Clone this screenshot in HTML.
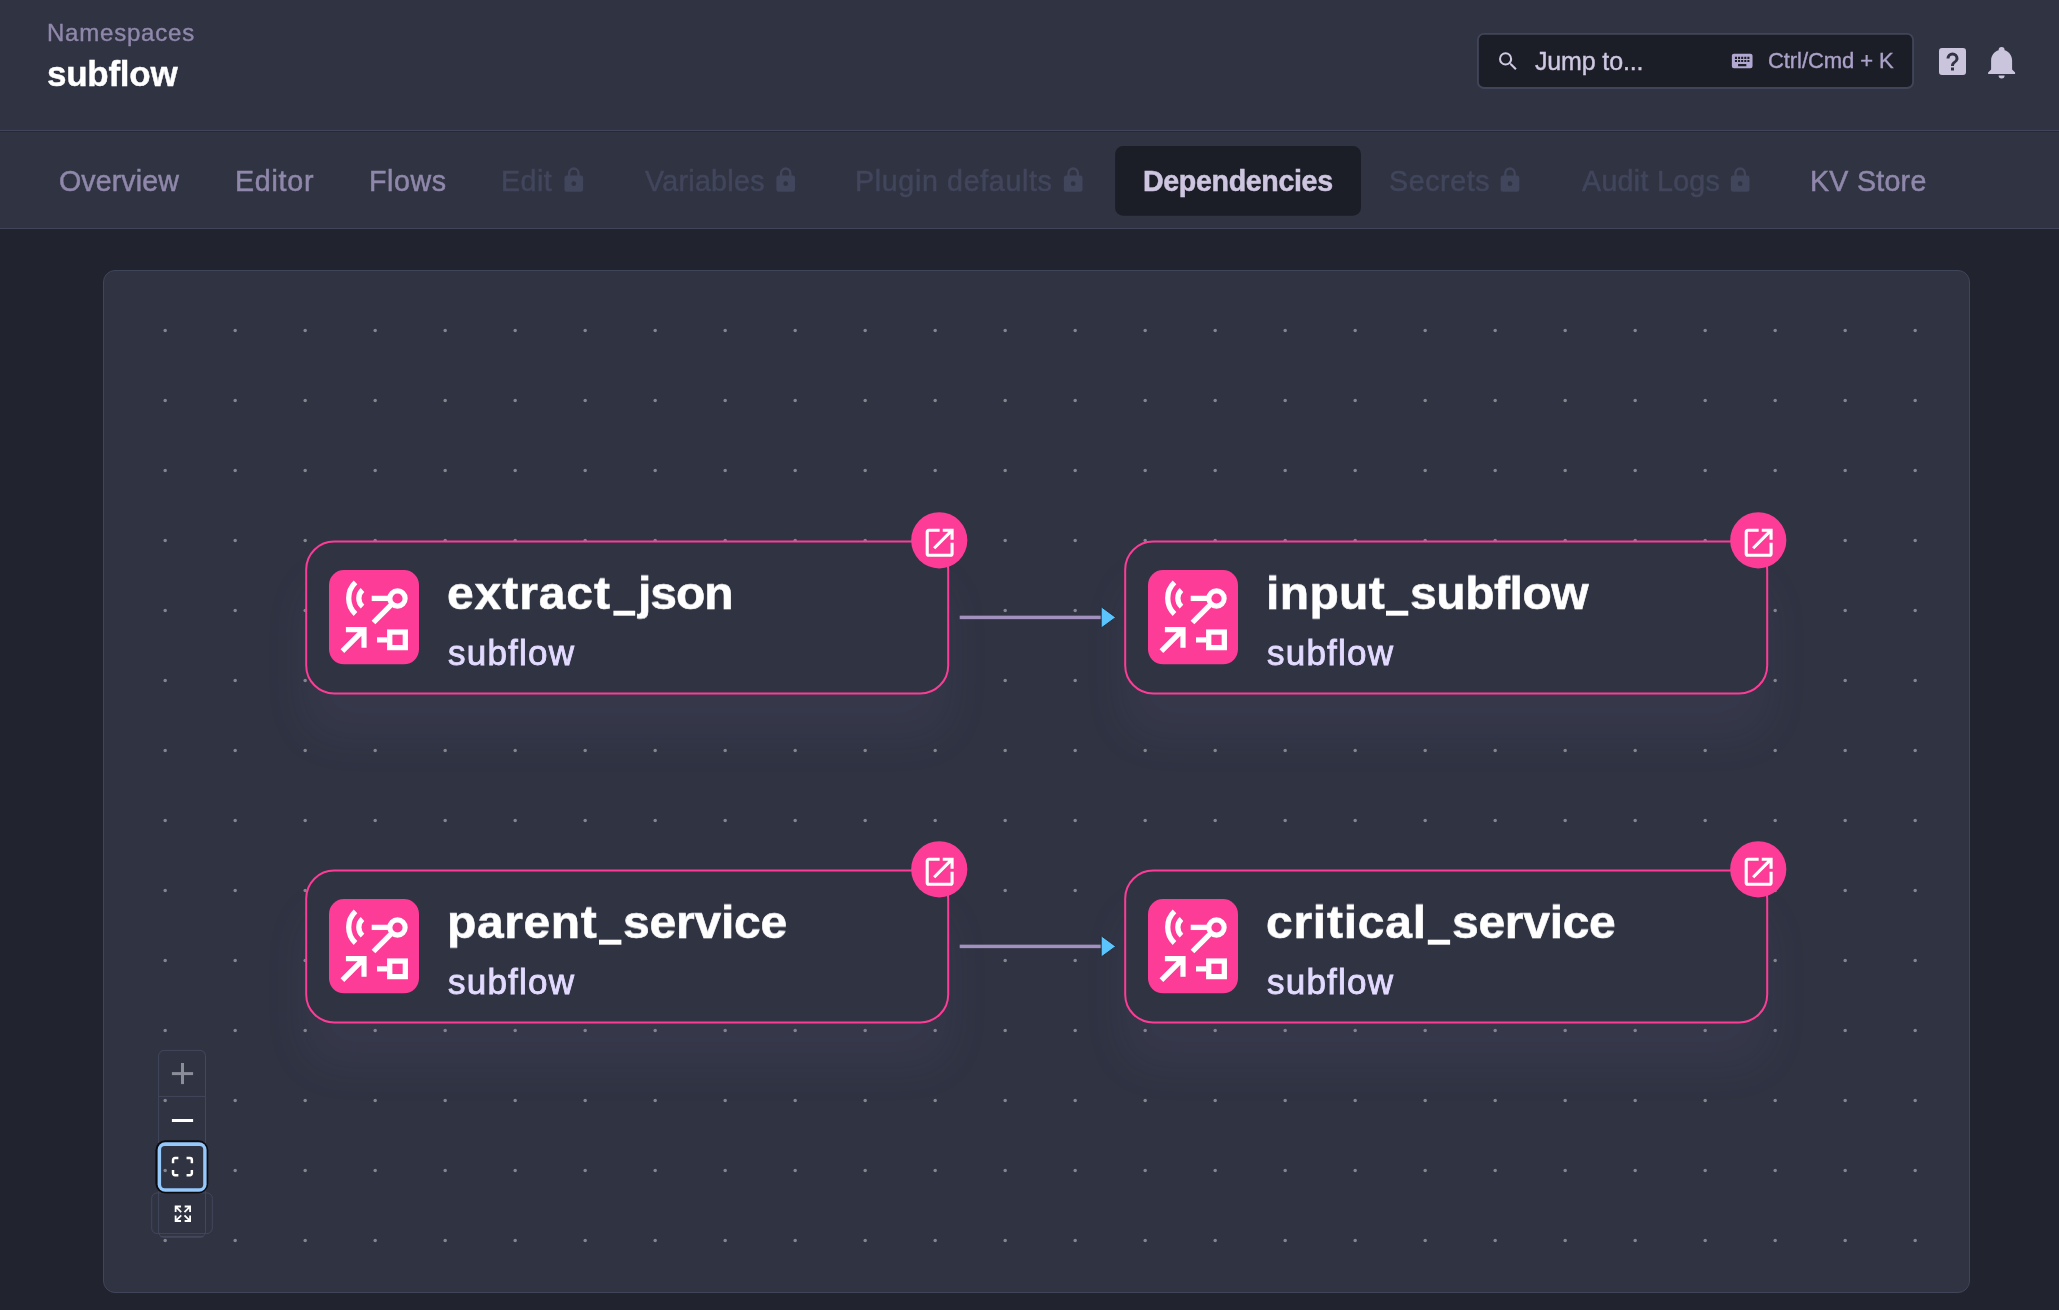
<!DOCTYPE html>
<html>
<head>
<meta charset="utf-8">
<title>Namespaces - subflow</title>
<style>
*{box-sizing:border-box;margin:0;padding:0}
html,body{width:2059px;height:1310px;overflow:hidden;background:#21232e;font-family:"Liberation Sans",sans-serif}
.abs{position:absolute}
svg.abs{left:0;top:0;overflow:visible}
.t{position:absolute;white-space:nowrap;line-height:1;will-change:transform}
#header{position:absolute;left:0;top:0;width:2059px;height:130.5px;background:#2f3342;border-bottom:1px solid #404559}
#hgap{position:absolute;left:0;top:130.9px;width:2059px;height:1.1px;background:#252837}
#tabs{position:absolute;left:0;top:130.5px;width:2059px;height:98.3px;background:#2f3342;border-bottom:1px solid #404559}
#panel{position:absolute;left:102.8px;top:269.7px;width:1867.5px;height:1023.5px;background:#2f3342;border:1px solid #404559;border-radius:12px}
.tab{color:#9088ab;font-size:28.6px;-webkit-text-stroke:.5px}
.tab.dis{color:#42465c}
.tab.on{font-weight:bold;color:#cec6e0}
.shadow{position:absolute;width:644px;height:154.8px;border-radius:29px;box-shadow:0 42px 42px 0 rgba(130,103,158,.10)}
.title{color:#fff;font-weight:bold;font-size:48px;-webkit-text-stroke:.6px;transform:scaleY(.958);transform-origin:0 40.64px}
.sub{color:#e3dbff;font-size:35px;-webkit-text-stroke:.85px}
</style>
</head>
<body>
<div id="header"></div><div id="tabs"></div><div id="hgap"></div><div id="panel"></div>
<svg class="abs" id="dots" width="2059" height="1310"><g fill="#85858f"><circle cx="165.2" cy="330.5" r="1.75"/><circle cx="165.2" cy="400.5" r="1.75"/><circle cx="165.2" cy="470.5" r="1.75"/><circle cx="165.2" cy="540.5" r="1.75"/><circle cx="165.2" cy="610.5" r="1.75"/><circle cx="165.2" cy="680.5" r="1.75"/><circle cx="165.2" cy="750.5" r="1.75"/><circle cx="165.2" cy="820.5" r="1.75"/><circle cx="165.2" cy="890.5" r="1.75"/><circle cx="165.2" cy="960.5" r="1.75"/><circle cx="165.2" cy="1030.5" r="1.75"/><circle cx="165.2" cy="1100.5" r="1.75"/><circle cx="165.2" cy="1170.5" r="1.75"/><circle cx="165.2" cy="1240.5" r="1.75"/><circle cx="235.2" cy="330.5" r="1.75"/><circle cx="235.2" cy="400.5" r="1.75"/><circle cx="235.2" cy="470.5" r="1.75"/><circle cx="235.2" cy="540.5" r="1.75"/><circle cx="235.2" cy="610.5" r="1.75"/><circle cx="235.2" cy="680.5" r="1.75"/><circle cx="235.2" cy="750.5" r="1.75"/><circle cx="235.2" cy="820.5" r="1.75"/><circle cx="235.2" cy="890.5" r="1.75"/><circle cx="235.2" cy="960.5" r="1.75"/><circle cx="235.2" cy="1030.5" r="1.75"/><circle cx="235.2" cy="1100.5" r="1.75"/><circle cx="235.2" cy="1170.5" r="1.75"/><circle cx="235.2" cy="1240.5" r="1.75"/><circle cx="305.2" cy="330.5" r="1.75"/><circle cx="305.2" cy="400.5" r="1.75"/><circle cx="305.2" cy="470.5" r="1.75"/><circle cx="305.2" cy="540.5" r="1.75"/><circle cx="305.2" cy="610.5" r="1.75"/><circle cx="305.2" cy="680.5" r="1.75"/><circle cx="305.2" cy="750.5" r="1.75"/><circle cx="305.2" cy="820.5" r="1.75"/><circle cx="305.2" cy="890.5" r="1.75"/><circle cx="305.2" cy="960.5" r="1.75"/><circle cx="305.2" cy="1030.5" r="1.75"/><circle cx="305.2" cy="1100.5" r="1.75"/><circle cx="305.2" cy="1170.5" r="1.75"/><circle cx="305.2" cy="1240.5" r="1.75"/><circle cx="375.2" cy="330.5" r="1.75"/><circle cx="375.2" cy="400.5" r="1.75"/><circle cx="375.2" cy="470.5" r="1.75"/><circle cx="375.2" cy="540.5" r="1.75"/><circle cx="375.2" cy="610.5" r="1.75"/><circle cx="375.2" cy="680.5" r="1.75"/><circle cx="375.2" cy="750.5" r="1.75"/><circle cx="375.2" cy="820.5" r="1.75"/><circle cx="375.2" cy="890.5" r="1.75"/><circle cx="375.2" cy="960.5" r="1.75"/><circle cx="375.2" cy="1030.5" r="1.75"/><circle cx="375.2" cy="1100.5" r="1.75"/><circle cx="375.2" cy="1170.5" r="1.75"/><circle cx="375.2" cy="1240.5" r="1.75"/><circle cx="445.2" cy="330.5" r="1.75"/><circle cx="445.2" cy="400.5" r="1.75"/><circle cx="445.2" cy="470.5" r="1.75"/><circle cx="445.2" cy="540.5" r="1.75"/><circle cx="445.2" cy="610.5" r="1.75"/><circle cx="445.2" cy="680.5" r="1.75"/><circle cx="445.2" cy="750.5" r="1.75"/><circle cx="445.2" cy="820.5" r="1.75"/><circle cx="445.2" cy="890.5" r="1.75"/><circle cx="445.2" cy="960.5" r="1.75"/><circle cx="445.2" cy="1030.5" r="1.75"/><circle cx="445.2" cy="1100.5" r="1.75"/><circle cx="445.2" cy="1170.5" r="1.75"/><circle cx="445.2" cy="1240.5" r="1.75"/><circle cx="515.2" cy="330.5" r="1.75"/><circle cx="515.2" cy="400.5" r="1.75"/><circle cx="515.2" cy="470.5" r="1.75"/><circle cx="515.2" cy="540.5" r="1.75"/><circle cx="515.2" cy="610.5" r="1.75"/><circle cx="515.2" cy="680.5" r="1.75"/><circle cx="515.2" cy="750.5" r="1.75"/><circle cx="515.2" cy="820.5" r="1.75"/><circle cx="515.2" cy="890.5" r="1.75"/><circle cx="515.2" cy="960.5" r="1.75"/><circle cx="515.2" cy="1030.5" r="1.75"/><circle cx="515.2" cy="1100.5" r="1.75"/><circle cx="515.2" cy="1170.5" r="1.75"/><circle cx="515.2" cy="1240.5" r="1.75"/><circle cx="585.2" cy="330.5" r="1.75"/><circle cx="585.2" cy="400.5" r="1.75"/><circle cx="585.2" cy="470.5" r="1.75"/><circle cx="585.2" cy="540.5" r="1.75"/><circle cx="585.2" cy="610.5" r="1.75"/><circle cx="585.2" cy="680.5" r="1.75"/><circle cx="585.2" cy="750.5" r="1.75"/><circle cx="585.2" cy="820.5" r="1.75"/><circle cx="585.2" cy="890.5" r="1.75"/><circle cx="585.2" cy="960.5" r="1.75"/><circle cx="585.2" cy="1030.5" r="1.75"/><circle cx="585.2" cy="1100.5" r="1.75"/><circle cx="585.2" cy="1170.5" r="1.75"/><circle cx="585.2" cy="1240.5" r="1.75"/><circle cx="655.2" cy="330.5" r="1.75"/><circle cx="655.2" cy="400.5" r="1.75"/><circle cx="655.2" cy="470.5" r="1.75"/><circle cx="655.2" cy="540.5" r="1.75"/><circle cx="655.2" cy="610.5" r="1.75"/><circle cx="655.2" cy="680.5" r="1.75"/><circle cx="655.2" cy="750.5" r="1.75"/><circle cx="655.2" cy="820.5" r="1.75"/><circle cx="655.2" cy="890.5" r="1.75"/><circle cx="655.2" cy="960.5" r="1.75"/><circle cx="655.2" cy="1030.5" r="1.75"/><circle cx="655.2" cy="1100.5" r="1.75"/><circle cx="655.2" cy="1170.5" r="1.75"/><circle cx="655.2" cy="1240.5" r="1.75"/><circle cx="725.2" cy="330.5" r="1.75"/><circle cx="725.2" cy="400.5" r="1.75"/><circle cx="725.2" cy="470.5" r="1.75"/><circle cx="725.2" cy="540.5" r="1.75"/><circle cx="725.2" cy="610.5" r="1.75"/><circle cx="725.2" cy="680.5" r="1.75"/><circle cx="725.2" cy="750.5" r="1.75"/><circle cx="725.2" cy="820.5" r="1.75"/><circle cx="725.2" cy="890.5" r="1.75"/><circle cx="725.2" cy="960.5" r="1.75"/><circle cx="725.2" cy="1030.5" r="1.75"/><circle cx="725.2" cy="1100.5" r="1.75"/><circle cx="725.2" cy="1170.5" r="1.75"/><circle cx="725.2" cy="1240.5" r="1.75"/><circle cx="795.2" cy="330.5" r="1.75"/><circle cx="795.2" cy="400.5" r="1.75"/><circle cx="795.2" cy="470.5" r="1.75"/><circle cx="795.2" cy="540.5" r="1.75"/><circle cx="795.2" cy="610.5" r="1.75"/><circle cx="795.2" cy="680.5" r="1.75"/><circle cx="795.2" cy="750.5" r="1.75"/><circle cx="795.2" cy="820.5" r="1.75"/><circle cx="795.2" cy="890.5" r="1.75"/><circle cx="795.2" cy="960.5" r="1.75"/><circle cx="795.2" cy="1030.5" r="1.75"/><circle cx="795.2" cy="1100.5" r="1.75"/><circle cx="795.2" cy="1170.5" r="1.75"/><circle cx="795.2" cy="1240.5" r="1.75"/><circle cx="865.2" cy="330.5" r="1.75"/><circle cx="865.2" cy="400.5" r="1.75"/><circle cx="865.2" cy="470.5" r="1.75"/><circle cx="865.2" cy="540.5" r="1.75"/><circle cx="865.2" cy="610.5" r="1.75"/><circle cx="865.2" cy="680.5" r="1.75"/><circle cx="865.2" cy="750.5" r="1.75"/><circle cx="865.2" cy="820.5" r="1.75"/><circle cx="865.2" cy="890.5" r="1.75"/><circle cx="865.2" cy="960.5" r="1.75"/><circle cx="865.2" cy="1030.5" r="1.75"/><circle cx="865.2" cy="1100.5" r="1.75"/><circle cx="865.2" cy="1170.5" r="1.75"/><circle cx="865.2" cy="1240.5" r="1.75"/><circle cx="935.2" cy="330.5" r="1.75"/><circle cx="935.2" cy="400.5" r="1.75"/><circle cx="935.2" cy="470.5" r="1.75"/><circle cx="935.2" cy="540.5" r="1.75"/><circle cx="935.2" cy="610.5" r="1.75"/><circle cx="935.2" cy="680.5" r="1.75"/><circle cx="935.2" cy="750.5" r="1.75"/><circle cx="935.2" cy="820.5" r="1.75"/><circle cx="935.2" cy="890.5" r="1.75"/><circle cx="935.2" cy="960.5" r="1.75"/><circle cx="935.2" cy="1030.5" r="1.75"/><circle cx="935.2" cy="1100.5" r="1.75"/><circle cx="935.2" cy="1170.5" r="1.75"/><circle cx="935.2" cy="1240.5" r="1.75"/><circle cx="1005.2" cy="330.5" r="1.75"/><circle cx="1005.2" cy="400.5" r="1.75"/><circle cx="1005.2" cy="470.5" r="1.75"/><circle cx="1005.2" cy="540.5" r="1.75"/><circle cx="1005.2" cy="610.5" r="1.75"/><circle cx="1005.2" cy="680.5" r="1.75"/><circle cx="1005.2" cy="750.5" r="1.75"/><circle cx="1005.2" cy="820.5" r="1.75"/><circle cx="1005.2" cy="890.5" r="1.75"/><circle cx="1005.2" cy="960.5" r="1.75"/><circle cx="1005.2" cy="1030.5" r="1.75"/><circle cx="1005.2" cy="1100.5" r="1.75"/><circle cx="1005.2" cy="1170.5" r="1.75"/><circle cx="1005.2" cy="1240.5" r="1.75"/><circle cx="1075.2" cy="330.5" r="1.75"/><circle cx="1075.2" cy="400.5" r="1.75"/><circle cx="1075.2" cy="470.5" r="1.75"/><circle cx="1075.2" cy="540.5" r="1.75"/><circle cx="1075.2" cy="610.5" r="1.75"/><circle cx="1075.2" cy="680.5" r="1.75"/><circle cx="1075.2" cy="750.5" r="1.75"/><circle cx="1075.2" cy="820.5" r="1.75"/><circle cx="1075.2" cy="890.5" r="1.75"/><circle cx="1075.2" cy="960.5" r="1.75"/><circle cx="1075.2" cy="1030.5" r="1.75"/><circle cx="1075.2" cy="1100.5" r="1.75"/><circle cx="1075.2" cy="1170.5" r="1.75"/><circle cx="1075.2" cy="1240.5" r="1.75"/><circle cx="1145.2" cy="330.5" r="1.75"/><circle cx="1145.2" cy="400.5" r="1.75"/><circle cx="1145.2" cy="470.5" r="1.75"/><circle cx="1145.2" cy="540.5" r="1.75"/><circle cx="1145.2" cy="610.5" r="1.75"/><circle cx="1145.2" cy="680.5" r="1.75"/><circle cx="1145.2" cy="750.5" r="1.75"/><circle cx="1145.2" cy="820.5" r="1.75"/><circle cx="1145.2" cy="890.5" r="1.75"/><circle cx="1145.2" cy="960.5" r="1.75"/><circle cx="1145.2" cy="1030.5" r="1.75"/><circle cx="1145.2" cy="1100.5" r="1.75"/><circle cx="1145.2" cy="1170.5" r="1.75"/><circle cx="1145.2" cy="1240.5" r="1.75"/><circle cx="1215.2" cy="330.5" r="1.75"/><circle cx="1215.2" cy="400.5" r="1.75"/><circle cx="1215.2" cy="470.5" r="1.75"/><circle cx="1215.2" cy="540.5" r="1.75"/><circle cx="1215.2" cy="610.5" r="1.75"/><circle cx="1215.2" cy="680.5" r="1.75"/><circle cx="1215.2" cy="750.5" r="1.75"/><circle cx="1215.2" cy="820.5" r="1.75"/><circle cx="1215.2" cy="890.5" r="1.75"/><circle cx="1215.2" cy="960.5" r="1.75"/><circle cx="1215.2" cy="1030.5" r="1.75"/><circle cx="1215.2" cy="1100.5" r="1.75"/><circle cx="1215.2" cy="1170.5" r="1.75"/><circle cx="1215.2" cy="1240.5" r="1.75"/><circle cx="1285.2" cy="330.5" r="1.75"/><circle cx="1285.2" cy="400.5" r="1.75"/><circle cx="1285.2" cy="470.5" r="1.75"/><circle cx="1285.2" cy="540.5" r="1.75"/><circle cx="1285.2" cy="610.5" r="1.75"/><circle cx="1285.2" cy="680.5" r="1.75"/><circle cx="1285.2" cy="750.5" r="1.75"/><circle cx="1285.2" cy="820.5" r="1.75"/><circle cx="1285.2" cy="890.5" r="1.75"/><circle cx="1285.2" cy="960.5" r="1.75"/><circle cx="1285.2" cy="1030.5" r="1.75"/><circle cx="1285.2" cy="1100.5" r="1.75"/><circle cx="1285.2" cy="1170.5" r="1.75"/><circle cx="1285.2" cy="1240.5" r="1.75"/><circle cx="1355.2" cy="330.5" r="1.75"/><circle cx="1355.2" cy="400.5" r="1.75"/><circle cx="1355.2" cy="470.5" r="1.75"/><circle cx="1355.2" cy="540.5" r="1.75"/><circle cx="1355.2" cy="610.5" r="1.75"/><circle cx="1355.2" cy="680.5" r="1.75"/><circle cx="1355.2" cy="750.5" r="1.75"/><circle cx="1355.2" cy="820.5" r="1.75"/><circle cx="1355.2" cy="890.5" r="1.75"/><circle cx="1355.2" cy="960.5" r="1.75"/><circle cx="1355.2" cy="1030.5" r="1.75"/><circle cx="1355.2" cy="1100.5" r="1.75"/><circle cx="1355.2" cy="1170.5" r="1.75"/><circle cx="1355.2" cy="1240.5" r="1.75"/><circle cx="1425.2" cy="330.5" r="1.75"/><circle cx="1425.2" cy="400.5" r="1.75"/><circle cx="1425.2" cy="470.5" r="1.75"/><circle cx="1425.2" cy="540.5" r="1.75"/><circle cx="1425.2" cy="610.5" r="1.75"/><circle cx="1425.2" cy="680.5" r="1.75"/><circle cx="1425.2" cy="750.5" r="1.75"/><circle cx="1425.2" cy="820.5" r="1.75"/><circle cx="1425.2" cy="890.5" r="1.75"/><circle cx="1425.2" cy="960.5" r="1.75"/><circle cx="1425.2" cy="1030.5" r="1.75"/><circle cx="1425.2" cy="1100.5" r="1.75"/><circle cx="1425.2" cy="1170.5" r="1.75"/><circle cx="1425.2" cy="1240.5" r="1.75"/><circle cx="1495.2" cy="330.5" r="1.75"/><circle cx="1495.2" cy="400.5" r="1.75"/><circle cx="1495.2" cy="470.5" r="1.75"/><circle cx="1495.2" cy="540.5" r="1.75"/><circle cx="1495.2" cy="610.5" r="1.75"/><circle cx="1495.2" cy="680.5" r="1.75"/><circle cx="1495.2" cy="750.5" r="1.75"/><circle cx="1495.2" cy="820.5" r="1.75"/><circle cx="1495.2" cy="890.5" r="1.75"/><circle cx="1495.2" cy="960.5" r="1.75"/><circle cx="1495.2" cy="1030.5" r="1.75"/><circle cx="1495.2" cy="1100.5" r="1.75"/><circle cx="1495.2" cy="1170.5" r="1.75"/><circle cx="1495.2" cy="1240.5" r="1.75"/><circle cx="1565.2" cy="330.5" r="1.75"/><circle cx="1565.2" cy="400.5" r="1.75"/><circle cx="1565.2" cy="470.5" r="1.75"/><circle cx="1565.2" cy="540.5" r="1.75"/><circle cx="1565.2" cy="610.5" r="1.75"/><circle cx="1565.2" cy="680.5" r="1.75"/><circle cx="1565.2" cy="750.5" r="1.75"/><circle cx="1565.2" cy="820.5" r="1.75"/><circle cx="1565.2" cy="890.5" r="1.75"/><circle cx="1565.2" cy="960.5" r="1.75"/><circle cx="1565.2" cy="1030.5" r="1.75"/><circle cx="1565.2" cy="1100.5" r="1.75"/><circle cx="1565.2" cy="1170.5" r="1.75"/><circle cx="1565.2" cy="1240.5" r="1.75"/><circle cx="1635.2" cy="330.5" r="1.75"/><circle cx="1635.2" cy="400.5" r="1.75"/><circle cx="1635.2" cy="470.5" r="1.75"/><circle cx="1635.2" cy="540.5" r="1.75"/><circle cx="1635.2" cy="610.5" r="1.75"/><circle cx="1635.2" cy="680.5" r="1.75"/><circle cx="1635.2" cy="750.5" r="1.75"/><circle cx="1635.2" cy="820.5" r="1.75"/><circle cx="1635.2" cy="890.5" r="1.75"/><circle cx="1635.2" cy="960.5" r="1.75"/><circle cx="1635.2" cy="1030.5" r="1.75"/><circle cx="1635.2" cy="1100.5" r="1.75"/><circle cx="1635.2" cy="1170.5" r="1.75"/><circle cx="1635.2" cy="1240.5" r="1.75"/><circle cx="1705.2" cy="330.5" r="1.75"/><circle cx="1705.2" cy="400.5" r="1.75"/><circle cx="1705.2" cy="470.5" r="1.75"/><circle cx="1705.2" cy="540.5" r="1.75"/><circle cx="1705.2" cy="610.5" r="1.75"/><circle cx="1705.2" cy="680.5" r="1.75"/><circle cx="1705.2" cy="750.5" r="1.75"/><circle cx="1705.2" cy="820.5" r="1.75"/><circle cx="1705.2" cy="890.5" r="1.75"/><circle cx="1705.2" cy="960.5" r="1.75"/><circle cx="1705.2" cy="1030.5" r="1.75"/><circle cx="1705.2" cy="1100.5" r="1.75"/><circle cx="1705.2" cy="1170.5" r="1.75"/><circle cx="1705.2" cy="1240.5" r="1.75"/><circle cx="1775.2" cy="330.5" r="1.75"/><circle cx="1775.2" cy="400.5" r="1.75"/><circle cx="1775.2" cy="470.5" r="1.75"/><circle cx="1775.2" cy="540.5" r="1.75"/><circle cx="1775.2" cy="610.5" r="1.75"/><circle cx="1775.2" cy="680.5" r="1.75"/><circle cx="1775.2" cy="750.5" r="1.75"/><circle cx="1775.2" cy="820.5" r="1.75"/><circle cx="1775.2" cy="890.5" r="1.75"/><circle cx="1775.2" cy="960.5" r="1.75"/><circle cx="1775.2" cy="1030.5" r="1.75"/><circle cx="1775.2" cy="1100.5" r="1.75"/><circle cx="1775.2" cy="1170.5" r="1.75"/><circle cx="1775.2" cy="1240.5" r="1.75"/><circle cx="1845.2" cy="330.5" r="1.75"/><circle cx="1845.2" cy="400.5" r="1.75"/><circle cx="1845.2" cy="470.5" r="1.75"/><circle cx="1845.2" cy="540.5" r="1.75"/><circle cx="1845.2" cy="610.5" r="1.75"/><circle cx="1845.2" cy="680.5" r="1.75"/><circle cx="1845.2" cy="750.5" r="1.75"/><circle cx="1845.2" cy="820.5" r="1.75"/><circle cx="1845.2" cy="890.5" r="1.75"/><circle cx="1845.2" cy="960.5" r="1.75"/><circle cx="1845.2" cy="1030.5" r="1.75"/><circle cx="1845.2" cy="1100.5" r="1.75"/><circle cx="1845.2" cy="1170.5" r="1.75"/><circle cx="1845.2" cy="1240.5" r="1.75"/><circle cx="1915.2" cy="330.5" r="1.75"/><circle cx="1915.2" cy="400.5" r="1.75"/><circle cx="1915.2" cy="470.5" r="1.75"/><circle cx="1915.2" cy="540.5" r="1.75"/><circle cx="1915.2" cy="610.5" r="1.75"/><circle cx="1915.2" cy="680.5" r="1.75"/><circle cx="1915.2" cy="750.5" r="1.75"/><circle cx="1915.2" cy="820.5" r="1.75"/><circle cx="1915.2" cy="890.5" r="1.75"/><circle cx="1915.2" cy="960.5" r="1.75"/><circle cx="1915.2" cy="1030.5" r="1.75"/><circle cx="1915.2" cy="1100.5" r="1.75"/><circle cx="1915.2" cy="1170.5" r="1.75"/><circle cx="1915.2" cy="1240.5" r="1.75"/></g></svg>
<div class="shadow" style="left:305.2px;top:539.6px"></div>
<div class="shadow" style="left:1124.2px;top:539.6px"></div>
<div class="shadow" style="left:305.2px;top:868.6px"></div>
<div class="shadow" style="left:1124.2px;top:868.6px"></div>
<svg class="abs" id="gfx" width="2059" height="1310">
<rect x="1477.9" y="33.9" width="435.2" height="54.1" rx="6" fill="#1c1e27" stroke="#404559" stroke-width="1.9"/>
<path transform="translate(1496.00,49.30) scale(1.0083)" fill="#cfc8e2" d="M9.5,3A6.5,6.5 0 0,1 16,9.5C16,11.11 15.41,12.59 14.44,13.73L14.71,14H15.5L20.5,19L19,20.5L14,15.5V14.71L13.73,14.44C12.59,15.41 11.11,16 9.5,16A6.5,6.5 0 0,1 3,9.5A6.5,6.5 0 0,1 9.5,3M9.5,5C7,5 5,7 5,9.5C5,12 7,14 9.5,14C12,14 14,12 14,9.5C14,7 12,5 9.5,5Z"/>
<path transform="translate(1729.80,48.60) scale(1.0333)" fill="#b1a7d0" d="M19,10H17V8H19M19,13H17V11H19M16,10H14V8H16M16,13H14V11H16M16,17H8V15H16M7,10H5V8H7M7,13H5V11H7M8,11H10V13H8M8,8H10V10H8M11,11H13V13H11M11,8H13V10H11M20,5H4C2.89,5 2,5.89 2,7V17A2,2 0 0,0 4,19H20A2,2 0 0,0 22,17V7C22,5.89 21.1,5 20,5Z"/>
<path transform="translate(1934.50,43.50) scale(1.5000)" fill="#cbc4dd" d="M11,18H13V16H11V18M12,6A4,4 0 0,0 8,10H10A2,2 0 0,1 12,8A2,2 0 0,1 14,10C14,12 11,11.75 11,15H13C13,12.75 16,12.5 16,10A4,4 0 0,0 12,6M5,3H19A2,2 0 0,1 21,5V19A2,2 0 0,1 19,21H5A2,2 0 0,1 3,19V5A2,2 0 0,1 5,3Z"/>
<path transform="translate(1983.60,43.90) scale(1.5000)" fill="#cbc4dd" d="M21,19V20H3V19L5,17V11C5,7.9 7.03,5.17 10,4.29C10,4.19 10,4.1 10,4A2,2 0 0,1 12,2A2,2 0 0,1 14,4C14,4.1 14,4.19 14,4.29C16.97,5.17 19,7.9 19,11V17L21,19M14,21A2,2 0 0,1 12,23A2,2 0 0,1 10,21"/>
<rect x="1115.1" y="146.1" width="245.9" height="69.6" rx="8" fill="#1c1e27"/>
<path transform="translate(559.80,166.20) scale(1.1667)" fill="#42465c" d="M12,17A2,2 0 0,0 14,15C14,13.89 13.1,13 12,13A2,2 0 0,0 10,15A2,2 0 0,0 12,17M18,8A2,2 0 0,1 20,10V20A2,2 0 0,1 18,22H6A2,2 0 0,1 4,20V10C4,8.89 4.9,8 6,8H7V6A5,5 0 0,1 12,1A5,5 0 0,1 17,6V8H18M12,3A3,3 0 0,0 9,6V8H15V6A3,3 0 0,0 12,3Z"/>
<path transform="translate(771.70,166.20) scale(1.1667)" fill="#42465c" d="M12,17A2,2 0 0,0 14,15C14,13.89 13.1,13 12,13A2,2 0 0,0 10,15A2,2 0 0,0 12,17M18,8A2,2 0 0,1 20,10V20A2,2 0 0,1 18,22H6A2,2 0 0,1 4,20V10C4,8.89 4.9,8 6,8H7V6A5,5 0 0,1 12,1A5,5 0 0,1 17,6V8H18M12,3A3,3 0 0,0 9,6V8H15V6A3,3 0 0,0 12,3Z"/>
<path transform="translate(1059.20,166.20) scale(1.1667)" fill="#42465c" d="M12,17A2,2 0 0,0 14,15C14,13.89 13.1,13 12,13A2,2 0 0,0 10,15A2,2 0 0,0 12,17M18,8A2,2 0 0,1 20,10V20A2,2 0 0,1 18,22H6A2,2 0 0,1 4,20V10C4,8.89 4.9,8 6,8H7V6A5,5 0 0,1 12,1A5,5 0 0,1 17,6V8H18M12,3A3,3 0 0,0 9,6V8H15V6A3,3 0 0,0 12,3Z"/>
<path transform="translate(1496.00,166.20) scale(1.1667)" fill="#42465c" d="M12,17A2,2 0 0,0 14,15C14,13.89 13.1,13 12,13A2,2 0 0,0 10,15A2,2 0 0,0 12,17M18,8A2,2 0 0,1 20,10V20A2,2 0 0,1 18,22H6A2,2 0 0,1 4,20V10C4,8.89 4.9,8 6,8H7V6A5,5 0 0,1 12,1A5,5 0 0,1 17,6V8H18M12,3A3,3 0 0,0 9,6V8H15V6A3,3 0 0,0 12,3Z"/>
<path transform="translate(1726.20,166.20) scale(1.1667)" fill="#42465c" d="M12,17A2,2 0 0,0 14,15C14,13.89 13.1,13 12,13A2,2 0 0,0 10,15A2,2 0 0,0 12,17M18,8A2,2 0 0,1 20,10V20A2,2 0 0,1 18,22H6A2,2 0 0,1 4,20V10C4,8.89 4.9,8 6,8H7V6A5,5 0 0,1 12,1A5,5 0 0,1 17,6V8H18M12,3A3,3 0 0,0 9,6V8H15V6A3,3 0 0,0 12,3Z"/>
<rect x="959.7" y="615.65" width="143" height="3.5" fill="#a291be"/><path d="M1101.2,606.8 L1115.7,617.4 L1101.2,628.0 Z" fill="#5bc4fc" stroke="#232633" stroke-width=".9"/>
<rect x="959.7" y="944.65" width="143" height="3.5" fill="#a291be"/><path d="M1101.2,935.8 L1115.7,946.4 L1101.2,957.0 Z" fill="#5bc4fc" stroke="#232633" stroke-width=".9"/>
<rect x="306.2" y="541.5" width="642" height="151.9" rx="28" fill="#2f3342" stroke="#fd3c97" stroke-width="2"/>
<rect x="329.0" y="570.0" width="90" height="94.3" rx="15" fill="#fd3c97"/>
<g transform="translate(329.00,570.00)" fill="none" stroke="#fff" stroke-width="5.3">
<path d="M26.5,12.4 A21.8,21.8 0 0 0 26.5,44"/><path d="M33.5,20 A11.2,11.2 0 0 0 33.5,36.6"/>
<path d="M42.7,28.4 H61"/><circle cx="68.5" cy="28.5" r="7.65" stroke-width="5.1"/><path d="M63.1,33.9 L44.5,52.5"/>
<path d="M13.4,81.2 L34.7,59.9 M16.9,59.65 H35 V77.85" stroke-width="5.2"/>
<rect x="60.74" y="62.04" width="15.58" height="15.58" stroke-width="5.27"/><path d="M48,69.9 H58.2" stroke-width="5.2"/></g>
<circle cx="939.25" cy="540.30" r="28.1" fill="#fd3c97"/>
<path transform="translate(921.00,524.10) scale(1.5542)" fill="#fff" d="M14,3V5H17.59L7.76,14.83L9.17,16.24L19,6.41V10H21V3M19,19H5V5H12V3H5C3.89,3 3,3.9 3,5V19A2,2 0 0,0 5,21H19A2,2 0 0,0 21,19V12H19V19Z"/>
<rect x="613.4" y="610.7" width="21.8" height="5" fill="#fff"/>
<rect x="1125.2" y="541.5" width="642" height="151.9" rx="28" fill="#2f3342" stroke="#fd3c97" stroke-width="2"/>
<rect x="1148.0" y="570.0" width="90" height="94.3" rx="15" fill="#fd3c97"/>
<g transform="translate(1148.00,570.00)" fill="none" stroke="#fff" stroke-width="5.3">
<path d="M26.5,12.4 A21.8,21.8 0 0 0 26.5,44"/><path d="M33.5,20 A11.2,11.2 0 0 0 33.5,36.6"/>
<path d="M42.7,28.4 H61"/><circle cx="68.5" cy="28.5" r="7.65" stroke-width="5.1"/><path d="M63.1,33.9 L44.5,52.5"/>
<path d="M13.4,81.2 L34.7,59.9 M16.9,59.65 H35 V77.85" stroke-width="5.2"/>
<rect x="60.74" y="62.04" width="15.58" height="15.58" stroke-width="5.27"/><path d="M48,69.9 H58.2" stroke-width="5.2"/></g>
<circle cx="1758.25" cy="540.30" r="28.1" fill="#fd3c97"/>
<path transform="translate(1740.00,524.10) scale(1.5542)" fill="#fff" d="M14,3V5H17.59L7.76,14.83L9.17,16.24L19,6.41V10H21V3M19,19H5V5H12V3H5C3.89,3 3,3.9 3,5V19A2,2 0 0,0 5,21H19A2,2 0 0,0 21,19V12H19V19Z"/>
<rect x="1386" y="610.7" width="22.3" height="5" fill="#fff"/>
<rect x="306.2" y="870.5" width="642" height="151.9" rx="28" fill="#2f3342" stroke="#fd3c97" stroke-width="2"/>
<rect x="329.0" y="899.0" width="90" height="94.3" rx="15" fill="#fd3c97"/>
<g transform="translate(329.00,899.00)" fill="none" stroke="#fff" stroke-width="5.3">
<path d="M26.5,12.4 A21.8,21.8 0 0 0 26.5,44"/><path d="M33.5,20 A11.2,11.2 0 0 0 33.5,36.6"/>
<path d="M42.7,28.4 H61"/><circle cx="68.5" cy="28.5" r="7.65" stroke-width="5.1"/><path d="M63.1,33.9 L44.5,52.5"/>
<path d="M13.4,81.2 L34.7,59.9 M16.9,59.65 H35 V77.85" stroke-width="5.2"/>
<rect x="60.74" y="62.04" width="15.58" height="15.58" stroke-width="5.27"/><path d="M48,69.9 H58.2" stroke-width="5.2"/></g>
<circle cx="939.25" cy="869.30" r="28.1" fill="#fd3c97"/>
<path transform="translate(921.00,853.10) scale(1.5542)" fill="#fff" d="M14,3V5H17.59L7.76,14.83L9.17,16.24L19,6.41V10H21V3M19,19H5V5H12V3H5C3.89,3 3,3.9 3,5V19A2,2 0 0,0 5,21H19A2,2 0 0,0 21,19V12H19V19Z"/>
<rect x="599" y="939.7" width="22.4" height="5" fill="#fff"/>
<rect x="1125.2" y="870.5" width="642" height="151.9" rx="28" fill="#2f3342" stroke="#fd3c97" stroke-width="2"/>
<rect x="1148.0" y="899.0" width="90" height="94.3" rx="15" fill="#fd3c97"/>
<g transform="translate(1148.00,899.00)" fill="none" stroke="#fff" stroke-width="5.3">
<path d="M26.5,12.4 A21.8,21.8 0 0 0 26.5,44"/><path d="M33.5,20 A11.2,11.2 0 0 0 33.5,36.6"/>
<path d="M42.7,28.4 H61"/><circle cx="68.5" cy="28.5" r="7.65" stroke-width="5.1"/><path d="M63.1,33.9 L44.5,52.5"/>
<path d="M13.4,81.2 L34.7,59.9 M16.9,59.65 H35 V77.85" stroke-width="5.2"/>
<rect x="60.74" y="62.04" width="15.58" height="15.58" stroke-width="5.27"/><path d="M48,69.9 H58.2" stroke-width="5.2"/></g>
<circle cx="1758.25" cy="869.30" r="28.1" fill="#fd3c97"/>
<path transform="translate(1740.00,853.10) scale(1.5542)" fill="#fff" d="M14,3V5H17.59L7.76,14.83L9.17,16.24L19,6.41V10H21V3M19,19H5V5H12V3H5C3.89,3 3,3.9 3,5V19A2,2 0 0,0 5,21H19A2,2 0 0,0 21,19V12H19V19Z"/>
<rect x="1427.8" y="939.7" width="22.3" height="5" fill="#fff"/>
<g fill="none" stroke="#42475c" stroke-width="1">
<rect x="158.6" y="1050.4" width="46.9" height="186.9" rx="5.5"/>
<path d="M158.6,1096.4 H205.5"/>
<rect x="151.7" y="1192.9" width="60.6" height="40.7" rx="5.5"/></g>
<rect x="160.5" y="1235.8" width="43" height="1.5" fill="#42475c"/>
<rect x="171.9" y="1072.1" width="21.2" height="3" fill="#8b8d99"/><rect x="181" y="1063" width="3" height="21.1" fill="#8b8d99"/>
<rect x="171.9" y="1119" width="21.2" height="3" fill="#fff"/>
<rect x="155.4" y="1140.3" width="52.9" height="53.2" rx="10" fill="#0b0b10"/>
<rect x="157.6" y="1142.2" width="49" height="49.6" rx="7.6" fill="#95c9fc"/>
<rect x="161.1" y="1146.1" width="42.1" height="42.1" rx="3.6" fill="#2f3342"/>
<circle cx="165.2" cy="1170.5" r="1.75" fill="#85858f"/>
<path transform="translate(171.80,1156.80) scale(0.6656)" fill="#fff" d="M3.692 4.63c0-.53.4-.938.939-.938h5.215V0H4.708C2.13 0 0 2.054 0 4.63v5.216h3.692V4.631zM27.354 0h-5.2v3.692h5.17c.53 0 .984.4.984.939v5.215H32V4.631A4.624 4.624 0 0027.354 0zm.954 24.83c0 .532-.4.94-.939.94h-5.215v3.768h5.215c2.577 0 4.631-2.13 4.631-4.707v-5.139h-3.692v5.139zm-23.677.94a.919.919 0 01-.939-.94v-5.138H0v5.139c0 2.577 2.13 4.707 4.708 4.707h5.138V25.77H4.631z"/>
<path transform="translate(172.00,1202.90) scale(0.9042)" fill="#fff" d="M9.5,13.09L10.91,14.5L6.41,19H10V21H3V14H5V17.59L9.5,13.09M10.91,9.5L9.5,10.91L5,6.41V10H3V3H10V5H6.41L10.91,9.5M14.5,13.09L19,17.59V14H21V21H14V19H17.59L13.09,14.5L14.5,13.09M13.09,9.5L17.59,5H14V3H21V10H19V6.41L14.5,10.91L13.09,9.5Z"/>
</svg>
<div class="t" id="ns" style="left:47.0px;letter-spacing:0.792px;top:20.6px;font-size:24px;-webkit-text-stroke:.4px;color:#9088ab">Namespaces</div>
<div class="t" id="h1" style="left:47.0px;letter-spacing:-0.258px;top:55.6px;font-size:35px;-webkit-text-stroke:.4px;font-weight:bold;color:#fff">subflow</div>
<div class="t" id="jump" style="left:1535.0px;letter-spacing:-0.149px;top:48.6px;font-size:25px;-webkit-text-stroke:.4px;color:#cfc8e2">Jump to...</div>
<div class="t" id="kbd" style="left:1768.0px;letter-spacing:-0.082px;top:50px;font-size:22px;-webkit-text-stroke:.35px;color:#aca2c9">Ctrl/Cmd + K</div>
<div class="t tab" id="t1" style="left:59.0px;letter-spacing:0.091px;top:167px">Overview</div>
<div class="t tab" id="t2" style="left:235.0px;letter-spacing:0.75px;top:167px">Editor</div>
<div class="t tab" id="t3" style="left:369.0px;letter-spacing:0.624px;top:167px">Flows</div>
<div class="t tab dis" id="t4" style="left:501.0px;letter-spacing:0.461px;top:167px">Edit</div>
<div class="t tab dis" id="t5" style="left:645.0px;letter-spacing:0.294px;top:167px">Variables</div>
<div class="t tab dis" id="t6" style="left:855.0px;letter-spacing:0.665px;top:167px">Plugin defaults</div>
<div class="t tab on" id="t7" style="left:1143.0px;letter-spacing:-0.347px;top:167px">Dependencies</div>
<div class="t tab dis" id="t8" style="left:1389.0px;letter-spacing:0.586px;top:167px">Secrets</div>
<div class="t tab dis" id="t9" style="left:1582.0px;letter-spacing:0.305px;top:167px">Audit Logs</div>
<div class="t tab" id="t10" style="left:1810.0px;letter-spacing:0.264px;top:167px">KV Store</div>
<div class="t title" id="ti1a" style="left:447.0px;letter-spacing:0.925px;top:568.5px">extract</div>
<div class="t title" id="ti1b" style="left:638.0px;letter-spacing:-1.034px;top:568.5px">json</div>
<div class="t sub" id="su1" style="left:448.0px;letter-spacing:1.217px;top:635.0px">subflow</div>
<div class="t title" id="ti2a" style="left:1266.0px;letter-spacing:0.363px;top:568.5px">input</div>
<div class="t title" id="ti2b" style="left:1410.0px;letter-spacing:-0.445px;top:568.5px">subflow</div>
<div class="t sub" id="su2" style="left:1267.0px;letter-spacing:1.217px;top:635.0px">subflow</div>
<div class="t title" id="ti3a" style="left:447.0px;letter-spacing:0.59px;top:897.5px">parent</div>
<div class="t title" id="ti3b" style="left:623.0px;letter-spacing:-0.221px;top:897.5px">service</div>
<div class="t sub" id="su3" style="left:448.0px;letter-spacing:1.222px;top:964.0px">subflow</div>
<div class="t title" id="ti4a" style="left:1266.0px;letter-spacing:0.749px;top:897.5px">critical</div>
<div class="t title" id="ti4b" style="left:1452.0px;letter-spacing:-0.28px;top:897.5px">service</div>
<div class="t sub" id="su4" style="left:1267.0px;letter-spacing:1.217px;top:964.0px">subflow</div>
</body>
</html>
